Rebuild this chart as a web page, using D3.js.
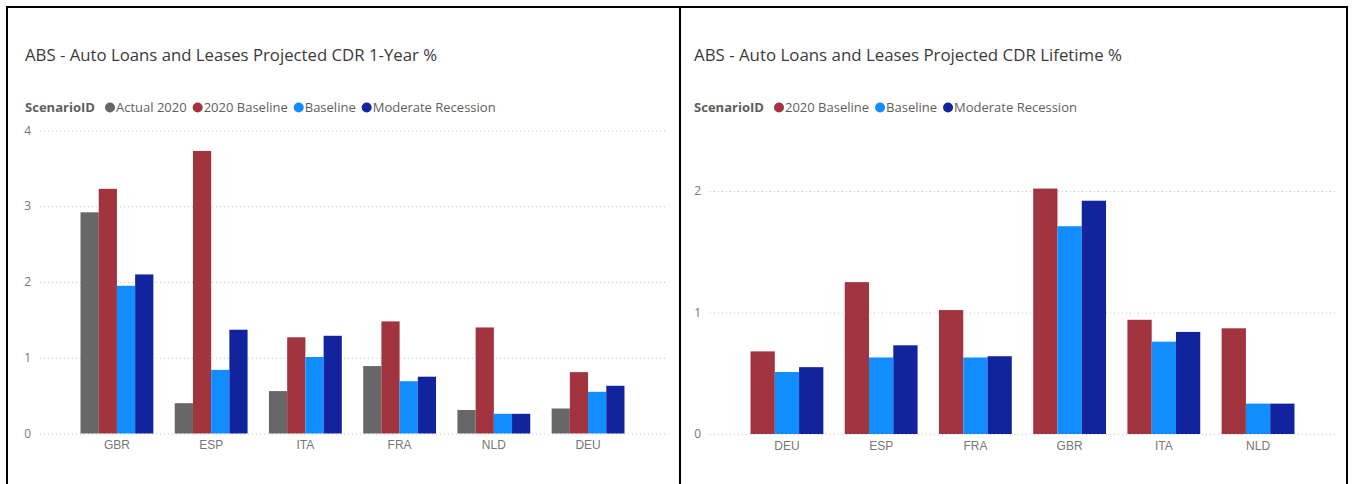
<!DOCTYPE html>
<html>
<head>
<meta charset="utf-8">
<script src="https://cdn.jsdelivr.net/npm/d3@7"></script>
<style>
  body { margin: 0; background: #fff; }
  svg { display: block; font-family: "Segoe UI", "Open Sans", sans-serif; }
</style>
</head>
<body>
<svg id="chart" width="1353" height="484"></svg>
<script>
  'use strict';

  // left chart: 1-year CDR
  var countries1 = ['GBR', 'ESP', 'ITA', 'FRA', 'NLD', 'DEU'];
  var scenarios1 = ['Actual 2020', '2020 Baseline', 'Baseline', 'Moderate Recession'];
  var actual2020_1 = [2.92, 0.40, 0.56, 0.89, 0.31, 0.33];
  var baseline2020_1 = [3.23, 3.73, 1.27, 1.48, 1.40, 0.81];
  var baseline_1 = [1.95, 0.84, 1.01, 0.69, 0.26, 0.55];
  var recession_1 = [2.10, 1.37, 1.29, 0.75, 0.26, 0.63];
  var yTicks1 = [0, 1, 2, 3, 4];

  // right chart: lifetime CDR
  var countries2 = ['DEU', 'ESP', 'FRA', 'GBR', 'ITA', 'NLD'];
  var scenarios2 = ['2020 Baseline', 'Baseline', 'Moderate Recession'];
  var baseline2020_2 = [0.68, 1.25, 1.02, 2.02, 0.94, 0.87];
  var baseline_2 = [0.51, 0.63, 0.63, 1.71, 0.76, 0.25];
  var recession_2 = [0.55, 0.73, 0.64, 1.92, 0.84, 0.25];
  var yTicks2 = [0, 1, 2];

  var colors = {
    'Actual 2020': '#676767',
    '2020 Baseline': '#A1343E',
    'Baseline': '#118DFF',
    'Moderate Recession': '#12239E'
  };

  var svg = d3.select('#chart');

  // panel borders
  svg.append('path')
    .attr('d', 'M7,490 V7 H680 V490 M680,7 H1347 V490')
    .attr('fill', 'none')
    .attr('stroke', '#000')
    .attr('stroke-width', 2);

  var drawPanel = function (opt) {
    var g = svg.append('g').attr('transform', 'translate(' + opt.left + ',0)');

    g.append('text')
      .attr('x', 18)
      .attr('y', 61)
      .attr('font-size', 17)
      .attr('fill', '#3b3a39')
      .attr('textLength', opt.titleWidth)
      .attr('lengthAdjust', 'spacingAndGlyphs')
      .text(opt.title);

    // legend
    var lg = g.append('g').attr('transform', 'translate(18,112)');
    var head = lg.append('text')
      .attr('font-size', 13)
      .attr('font-weight', 'bold')
      .attr('fill', '#605e5c')
      .attr('textLength', 70)
      .attr('lengthAdjust', 'spacingAndGlyphs')
      .text('ScenarioID');
    var lx = 70 + 10;
    opt.series.forEach(function (s) {
      lg.append('circle')
        .attr('cx', lx + 5)
        .attr('cy', -4.5)
        .attr('r', 5)
        .attr('fill', colors[s.name]);
      var t = lg.append('text')
        .attr('x', lx + 11)
        .attr('font-size', 13)
        .attr('fill', '#605e5c')
        .text(s.name);
      lx += 11 + t.node().getComputedTextLength() + 6;
    });

    var x0 = d3.scaleBand()
      .domain(opt.categories)
      .range([opt.plotLeft, opt.plotRight])
      .paddingInner(0.227)
      .paddingOuter(0.43);

    var x1 = d3.scaleBand()
      .domain(opt.series.map(function (s) { return s.name; }))
      .range([0, x0.bandwidth()]);

    var y = d3.scaleLinear()
      .domain(opt.yDomain)
      .range([opt.zeroY, opt.topY]);

    // gridlines
    g.append('g').selectAll('line')
      .data(opt.yTicks)
      .enter().append('line')
      .attr('x1', opt.plotLeft)
      .attr('x2', opt.plotRight)
      .attr('y1', function (d) { return y(d) + 0.5; })
      .attr('y2', function (d) { return y(d) + 0.5; })
      .attr('stroke', '#c8c6c4')
      .attr('stroke-dasharray', '1,3');

    // y tick labels
    g.append('g').selectAll('text')
      .data(opt.yTicks)
      .enter().append('text')
      .attr('x', opt.plotLeft - 9)
      .attr('y', function (d) { return y(d) + 4; })
      .attr('text-anchor', 'end')
      .attr('font-size', 12)
      .attr('fill', '#777')
      .text(function (d) { return d; });

    // bars
    var groups = g.append('g').selectAll('g')
      .data(opt.categories)
      .enter().append('g')
      .attr('transform', function (d) { return 'translate(' + x0(d) + ',0)'; });

    groups.selectAll('rect')
      .data(function (d, i) {
        return opt.series.map(function (s) { return { name: s.name, value: s.values[i] }; });
      })
      .enter().append('rect')
      .attr('x', function (d) { return x1(d.name); })
      .attr('width', x1.bandwidth())
      .attr('y', function (d) { return y(d.value); })
      .attr('height', function (d) { return y(0) - y(d.value); })
      .attr('fill', function (d) { return colors[d.name]; });

    // x axis labels
    var xAxis = d3.axisBottom(x0).tickSize(0).tickPadding(7);
    var ax = g.append('g')
      .attr('transform', 'translate(0,' + opt.zeroY + ')')
      .call(xAxis);
    ax.select('.domain').remove();
    ax.selectAll('text')
      .attr('font-family', 'inherit')
      .attr('font-size', 12)
      .attr('fill', '#777');
  };

  drawPanel({
    left: 7,
    title: 'ABS - Auto Loans and Leases Projected CDR 1-Year %',
    titleWidth: 412,
    categories: countries1,
    series: [
      { name: scenarios1[0], values: actual2020_1 },
      { name: scenarios1[1], values: baseline2020_1 },
      { name: scenarios1[2], values: baseline_1 },
      { name: scenarios1[3], values: recession_1 }
    ],
    yTicks: yTicks1,
    yDomain: [0, 4],
    zeroY: 433.5,
    topY: 130.5,
    plotLeft: 33,
    plotRight: 658
  });

  drawPanel({
    left: 676,
    title: 'ABS - Auto Loans and Leases Projected CDR Lifetime %',
    titleWidth: 428,
    categories: countries2,
    series: [
      { name: scenarios2[0], values: baseline2020_2 },
      { name: scenarios2[1], values: baseline_2 },
      { name: scenarios2[2], values: recession_2 }
    ],
    yTicks: yTicks2,
    yDomain: [0, 2],
    zeroY: 434,
    topY: 191,
    plotLeft: 34,
    plotRight: 659
  });
</script>
</body>
</html>
